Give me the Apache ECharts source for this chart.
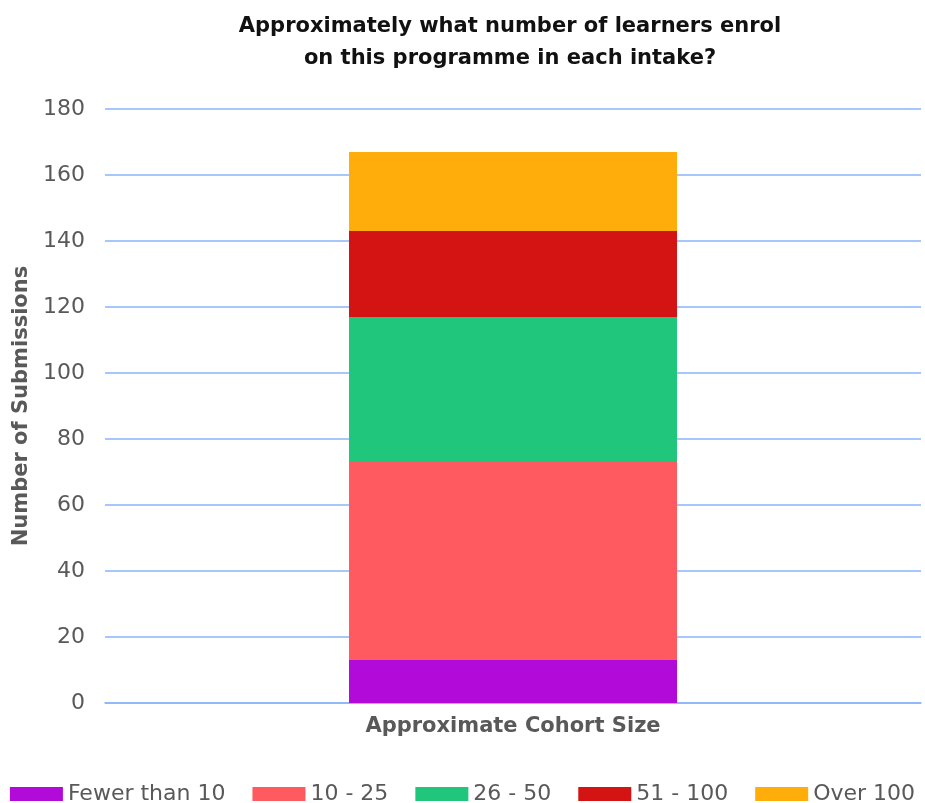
<!DOCTYPE html>
<html>
<head>
<meta charset="utf-8">
<title>Cohort size</title>
<script src="https://cdn.jsdelivr.net/npm/echarts@6/dist/echarts.min.js"></script>
<style>
  html, body { margin: 0; padding: 0; background: #ffffff; }
  #chart { width: 925px; height: 803px; }
</style>
</head>
<body>
<div id="chart"></div>
<script>
// Cohort size bands and how many submissions fall in each
const categories = ['Approximate Cohort Size'];
const bandNames = ['Fewer than 10', '10 - 25', '26 - 50', '51 - 100', 'Over 100'];
const bandValues = [13, 60, 44, 26, 24];
const bandColors = ['#b20ad9', '#ff5a5f', '#1fc67c', '#d41313', '#ffad0a'];
const yTicks = { min: 0, max: 180, interval: 20 };

const FONT = '"DejaVu Sans", sans-serif';
const GREY = '#595959';

const chart = echarts.init(document.getElementById('chart'), null, { renderer: 'canvas' });

const series = bandNames.map((name, i) => ({
  name: name,
  type: 'bar',
  stack: 'total',
  barWidth: 328,
  itemStyle: { color: bandColors[i] },
  data: [bandValues[i]]
}));

chart.setOption({
  animation: false,
  textStyle: { fontFamily: FONT },
  title: {
    text: 'Approximately what number of learners enrol\non this programme in each intake?',
    left: 505,
    textAlign: 'center',
    top: 6,
    textStyle: {
      fontFamily: FONT,
      fontSize: 21,
      fontWeight: 'bold',
      color: '#111111',
      lineHeight: 32
    }
  },
  legend: {
    top: 778,
    left: 'center',
    itemWidth: 53,
    itemHeight: 14,
    itemGap: 27,
    icon: 'rect',
    textStyle: { fontFamily: FONT, fontSize: 22, color: GREY },
    data: bandNames
  },
  grid: { left: 105, right: 4, top: 109, bottom: 100, outerBoundsMode: 'none' },
  xAxis: {
    type: 'category',
    data: categories,
    name: 'Approximate Cohort Size',
    nameLocation: 'middle',
    nameGap: 13,
    nameTextStyle: { fontFamily: FONT, fontSize: 21, fontWeight: 'bold', color: GREY },
    axisLine: { show: true, lineStyle: { color: '#8ab4f8', width: 1.5 } },
    axisTick: { show: false },
    axisLabel: { show: false }
  },
  yAxis: {
    type: 'value',
    min: yTicks.min,
    max: yTicks.max,
    interval: yTicks.interval,
    name: 'Number of Submissions',
    nameLocation: 'middle',
    nameGap: 72,
    nameRotate: 90,
    nameTextStyle: { fontFamily: FONT, fontSize: 21, fontWeight: 'bold', color: GREY },
    axisLine: { show: false },
    axisTick: { show: false },
    axisLabel: { fontFamily: FONT, fontSize: 22, color: GREY, margin: 20 },
    splitLine: { lineStyle: { color: '#8ab4f8', width: 1.5 } }
  },
  series: series
});
</script>
</body>
</html>
